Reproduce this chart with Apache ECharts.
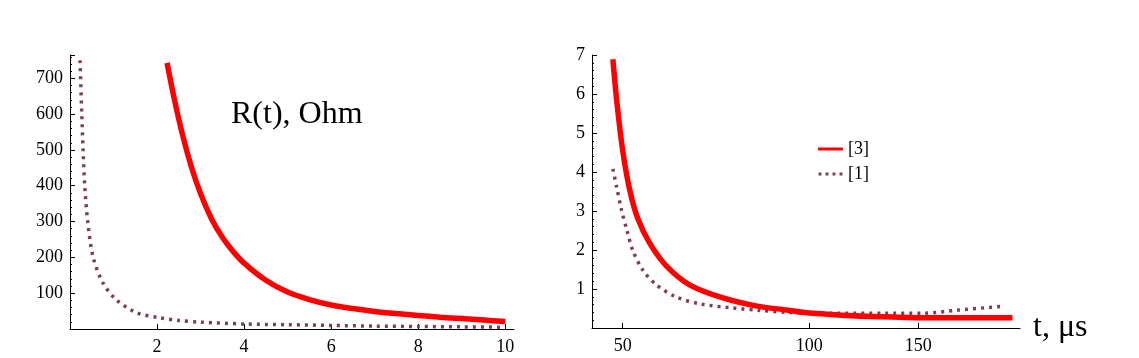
<!DOCTYPE html>
<html>
<head>
<meta charset="utf-8">
<script src="https://cdn.jsdelivr.net/npm/echarts@6/dist/echarts.min.js"></script>
<style>
  html, body { margin: 0; padding: 0; background: #fff; }
  #main { width: 1139px; height: 358px; }
</style>
</head>
<body>
<div id="main"></div>
<script>
// left panel: t (arb. units) vs R, Ohm
const leftT_red = [2.23, 2.4, 2.6, 2.8, 3.0, 3.25, 3.5, 3.75, 4.0, 4.5, 5.0, 5.5, 6.0, 6.5, 7.0, 7.5, 8.0, 8.5, 9.0, 9.5, 10.0];
const leftR_red = [743, 640, 535, 448, 378, 308, 256, 216, 184, 136, 103, 82, 67, 57, 49, 43, 38, 33, 29, 25, 21];
const leftT_pur = [0.23, 0.27, 0.30, 0.34, 0.41, 0.53, 0.76, 1.07, 1.54, 2.07, 2.5, 3.0, 4.0, 5.0, 6.0, 7.0, 8.0, 9.0, 10.0];
const leftR_pur = [750, 603, 500, 397, 296, 201, 128, 81, 45, 31, 24, 19, 14, 12, 10, 8, 7, 6, 5];

// right panel: t, µs (log axis) vs R
const rightT_red = [48.2, 48.9, 50.0, 51.3, 52.9, 55.3, 58.9, 64.2, 72.6, 82.4, 92, 99, 113, 130, 158, 213];
const rightR_red = [6.89, 5.82, 4.54, 3.55, 2.80, 2.17, 1.58, 1.10, 0.77, 0.56, 0.46, 0.39, 0.33, 0.29, 0.26, 0.26];
const rightT_pur = [48.2, 48.9, 49.8, 50.8, 51.9, 53.9, 56.7, 61.1, 66.6, 74.5, 83.3, 93, 110, 132, 153, 174, 207];
const rightR_pur = [4.08, 3.60, 3.01, 2.50, 1.99, 1.48, 1.10, 0.79, 0.62, 0.52, 0.45, 0.40, 0.38, 0.38, 0.38, 0.46, 0.56];

const rightTicks = [50, 100, 150];
const seriesNames = ['[3]', '[1]'];

const RED = '#ff0000';
const PURPLE = '#7e3c5e';
const FONT = '"Liberation Serif", "DejaVu Serif", serif';

function pairs(xs, ys, fx) {
  return xs.map((x, i) => [fx ? fx(x) : x, ys[i]]);
}
const lg = (v) => Math.log10(v);

const axisLine = { show: true, lineStyle: { color: '#000', width: 1 } };
const labelStyle = { color: '#000', fontFamily: FONT, fontSize: 18 };

var myChart = echarts.init(document.getElementById('main'), null, { renderer: 'canvas' });

const options = {
  backgroundColor: '#fff',
  animation: false,
  grid: [
    { left: 70, top: 55, width: 444, height: 274 },
    { left: 592, top: 55, width: 428, height: 273 }
  ],
  legend: {
    orient: 'vertical',
    left: 813,
    top: 135,
    itemWidth: 25,
    itemHeight: 3,
    itemGap: 7,
    textStyle: { fontFamily: FONT, fontSize: 18, color: '#000' },
    data: [
      { name: seriesNames[0], icon: 'path://M0,0h25v3h-25z', itemStyle: { color: RED } },
      { name: seriesNames[1], icon: 'path://M0,0h3v3h-3z M7,0h3v3h-3z M14,0h3v3h-3z M21,0h3v3h-3z', itemStyle: { color: PURPLE } }
    ]
  },
  xAxis: [
    {
      gridIndex: 0, type: 'value', min: 0, max: 10.2, interval: 2,
      axisLine: axisLine,
      axisTick: { inside: true, length: 5, lineStyle: { color: '#000' } },
      axisLabel: Object.assign({ margin: 9, showMinLabel: false, showMaxLabel: false }, labelStyle),
      splitLine: { show: false }
    },
    {
      gridIndex: 1, type: 'value', min: lg(44.6), max: lg(219),
      axisLine: axisLine,
      axisTick: { inside: true, length: 5, lineStyle: { color: '#000' }, customValues: rightTicks.map(lg) },
      axisLabel: Object.assign({
        margin: 9,
        customValues: rightTicks.map(lg),
        formatter: (v) => String(Math.round(Math.pow(10, v)))
      }, labelStyle),
      splitLine: { show: false },
      name: 't, μs',
      nameLocation: 'end',
      nameGap: 13,
      nameTextStyle: { fontFamily: FONT, fontSize: 32, color: '#000', verticalAlign: 'middle' }
    }
  ],
  yAxis: [
    {
      gridIndex: 0, type: 'value', min: 0, max: 765, interval: 100,
      axisLine: axisLine,
      axisTick: { inside: true, length: 5, lineStyle: { color: '#000' } },
      minorTick: { show: true, splitNumber: 5, length: 2, lineStyle: { color: '#000' } },
      axisLabel: Object.assign({ margin: 7, showMinLabel: false, showMaxLabel: false }, labelStyle),
      splitLine: { show: false }
    },
    {
      gridIndex: 1, type: 'value', min: 0, max: 7, interval: 1,
      axisLine: axisLine,
      axisTick: { inside: true, length: 5, lineStyle: { color: '#000' } },
      minorTick: { show: true, splitNumber: 5, length: 2, lineStyle: { color: '#000' } },
      axisLabel: Object.assign({ margin: 7, showMinLabel: false }, labelStyle),
      splitLine: { show: false }
    }
  ],
  graphic: [
    {
      type: 'text', left: 231, top: 99,
      style: { text: 'R(t), Ohm', font: '32px ' + FONT, fill: '#000' }
    }
  ],
  series: [
    {
      name: seriesNames[1], type: 'line', xAxisIndex: 0, yAxisIndex: 0,
      data: pairs(leftT_pur, leftR_pur), smooth: 0.3, symbol: 'none',
      lineStyle: { color: PURPLE, width: 3.5, type: [3, 5], cap: 'butt' },
      itemStyle: { color: PURPLE }
    },
    {
      name: seriesNames[0], type: 'line', xAxisIndex: 0, yAxisIndex: 0,
      data: pairs(leftT_red, leftR_red), smooth: 0.3, symbol: 'none',
      lineStyle: { color: RED, width: 5.5 }, itemStyle: { color: RED }
    },
    {
      name: seriesNames[1], type: 'line', xAxisIndex: 1, yAxisIndex: 1,
      data: pairs(rightT_pur, rightR_pur, lg), smooth: 0.3, symbol: 'none',
      lineStyle: { color: PURPLE, width: 3.5, type: [3, 5], cap: 'butt' },
      itemStyle: { color: PURPLE }
    },
    {
      name: seriesNames[0], type: 'line', xAxisIndex: 1, yAxisIndex: 1,
      data: pairs(rightT_red, rightR_red, lg), smooth: 0.3, symbol: 'none',
      lineStyle: { color: RED, width: 5.5 }, itemStyle: { color: RED }
    }
  ]
};

myChart.setOption(options);
window.onresize = function() {
  myChart.resize();
};
</script>
</body>
</html>
